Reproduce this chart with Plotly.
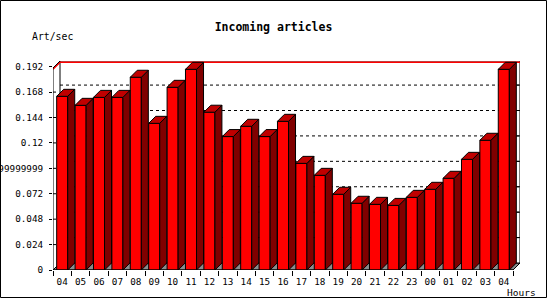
import plotly.graph_objects as go

# ---- data ----
hours = ["04", "05", "06", "07", "08", "09", "10", "11", "12", "13", "14", "15", "16",
         "17", "18", "19", "20", "21", "22", "23", "00", "01", "02", "03", "04"]
values = [0.164, 0.1555, 0.163, 0.163, 0.182, 0.1385, 0.1725, 0.1895, 0.149, 0.126,
          0.1357, 0.126, 0.1404, 0.1007, 0.0894, 0.0715, 0.063, 0.062, 0.061, 0.0686,
          0.0762, 0.0866, 0.1045, 0.1225, 0.1895]
ytick_vals = [0, 0.024, 0.048, 0.072, 0.096, 0.12, 0.144, 0.168, 0.192]
ytick_text = ["0", "0.024", "0.048", "0.072", "0.09599999999", "0.12", "0.144", "0.168", "0.192"]

# ---- geometry ----
W, H = 550, 300
L, R, T, B = 53, 30, 61, 30
PW, PH = W - L - R, H - T - B
DEPTH_PX = 7
YPX = 1059.0                       # pixels per unit on y
n = len(values)
XPX = (PW - DEPTH_PX) / n          # pixels per category
DX = DEPTH_PX / XPX
DY = DEPTH_PX / YPX
xr = [-0.5, n - 0.5 + DX]
yr = [0, PH / YPX]
YMAX = yr[1] - DY                  # front top of the value axis
HALF = 0.3

FRONT = "#ff0000"
TOPC = "#c00000"
SIDEC = "#800000"
FLOOR = "#8c8c8c"
MONO = "DejaVu Sans Mono"

def px_x(p):
    return (p - L) / PW

def px_y(p):
    return (H - B - p) / PH

xs = list(range(n))

fig = go.Figure()

# front faces
fig.add_trace(go.Bar(x=xs, y=values, width=2 * HALF,
                     marker=dict(color=FRONT, line=dict(color="black", width=1)),
                     hoverinfo="skip"))

# top and side faces
tx, ty, sx, sy = [], [], [], []
for i, v in zip(xs, values):
    tx += [i - HALF, i + HALF, i + HALF + DX, i - HALF + DX, i - HALF, None]
    ty += [v, v, v + DY, v + DY, v, None]
    sx += [i + HALF, i + HALF, i + HALF + DX, i + HALF + DX, i + HALF, None]
    sy += [0, v, v + DY, DY, 0, None]
fig.add_trace(go.Scatter(x=sx, y=sy, mode="lines", fill="toself", fillcolor=SIDEC,
                         line=dict(color="black", width=1), hoverinfo="skip"))
fig.add_trace(go.Scatter(x=tx, y=ty, mode="lines", fill="toself", fillcolor=TOPC,
                         line=dict(color="black", width=1), hoverinfo="skip"))

shapes = []
x0, x1 = -0.5, n - 0.5
# floor
shapes.append(dict(type="path", xref="x", yref="y", layer="below",
                   path=f"M{x0},0 L{x1},0 L{x1+DX},{DY} L{x0+DX},{DY} Z",
                   fillcolor=FLOOR, line=dict(color="black", width=1)))
# back wall
shapes.append(dict(type="rect", xref="x", yref="y", layer="below",
                   x0=x0 + DX, x1=x1 + DX, y0=DY, y1=YMAX + DY,
                   fillcolor="white", line=dict(color="black", width=1)))
# grid lines on back wall and small ticks
for t in ytick_vals[1:]:
    if t + DY < YMAX + DY - 1e-9:
        shapes.append(dict(type="line", xref="x", yref="y", layer="below",
                           x0=x0 + DX, x1=x1 + DX, y0=t + DY, y1=t + DY,
                           line=dict(color="black", width=1, dash="dot")))
        shapes.append(dict(type="line", xref="x", yref="y", layer="below",
                           x0=x1 + DX - 3 / XPX, x1=x1 + DX, y0=t + DY, y1=t + DY,
                           line=dict(color="black", width=1)))
    if t <= YMAX:
        shapes.append(dict(type="line", xref="x", yref="y", layer="below",
                           x0=x0, x1=x0 + 3 / XPX, y0=t, y1=t,
                           line=dict(color="black", width=1)))
# red max line
mx = max(values)
shapes.append(dict(type="path", xref="x", yref="y", layer="below",
                   path=f"M{x0},{mx} L{x0+DX},{mx+DY} L{x1+DX},{mx+DY}",
                   line=dict(color="red", width=1.5)))
# front left axis with top diagonal
shapes.append(dict(type="path", xref="x", yref="y", layer="above",
                   path=f"M{x0},0 L{x0},{YMAX} L{x0+DX},{YMAX+DY}",
                   line=dict(color="black", width=1)))
# front bottom axis
shapes.append(dict(type="line", xref="x", yref="y", layer="above",
                   x0=x0, x1=x1, y0=0, y1=0, line=dict(color="black", width=1)))
# image border
shapes.append(dict(type="rect", xref="paper", yref="paper",
                   x0=px_x(0.5), x1=px_x(546.5), y0=px_y(297.5), y1=px_y(0.5),
                   line=dict(color="black", width=1)))

fig.update_layout(
    width=W, height=H, margin=dict(l=L, r=R, t=T, b=B, autoexpand=False),
    paper_bgcolor="white", plot_bgcolor="white",
    showlegend=False, shapes=shapes,
    title=dict(text="<b>Incoming articles</b>", xref="container", yref="container",
               x=273.5 / W, y=1 - 27 / H, xanchor="center", yanchor="middle",
               font=dict(family=MONO, size=11.5, color="black")),
    xaxis=dict(range=xr, showgrid=False, zeroline=False, showline=False,
               automargin=False,
               tickmode="array", tickvals=xs, ticktext=hours, ticks="",
               ticklabelstandoff=5,
               tickfont=dict(family=MONO, size=9.3, color="black"),
               minor=dict(tick0=-0.5, dtick=1, ticks="outside", ticklen=5,
                          tickcolor="black", tickwidth=1, showgrid=False)),
    yaxis=dict(range=yr, showgrid=False, zeroline=False, showline=False,
               automargin=False,
               tickmode="array", tickvals=ytick_vals, ticktext=ytick_text,
               ticks="outside", ticklen=3, tickcolor="black",
               ticklabelstandoff=4,
               tickfont=dict(family=MONO, size=9.3, color="black")),
    annotations=[
        dict(text="Art/sec", xref="paper", yref="paper", x=px_x(30), y=px_y(36.7),
             xanchor="left", yanchor="middle", showarrow=False,
             font=dict(family=MONO, size=9.8, color="black")),
        dict(text="Hours", xref="paper", yref="paper", x=px_x(505), y=px_y(292.5),
             xanchor="left", yanchor="middle", showarrow=False,
             font=dict(family=MONO, size=9.5, color="black")),
    ],
)

fig.write_html("out.html")
